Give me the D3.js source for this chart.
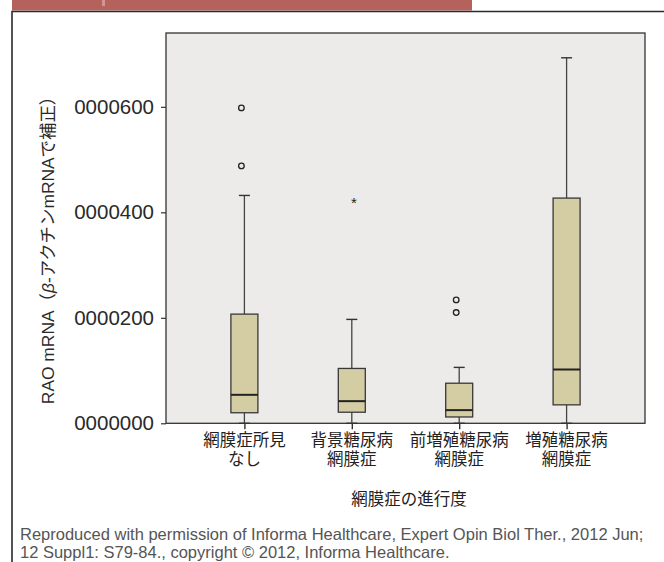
<!DOCTYPE html>
<html>
<head>
<meta charset="utf-8">
<script src="https://cdn.jsdelivr.net/npm/d3@7"></script>
<style>
  html, body { margin: 0; padding: 0; background: #fff; }
  svg { display: block; }
  text { font-family: "Liberation Sans", Arial, "Noto Sans CJK JP", sans-serif; }
</style>
</head>
<body>
<svg id="chart" width="664" height="562"></svg>
<script>
// Retinopathy stage groups (two-line labels)
const categories = [
  ["網膜症所見", "なし"],
  ["背景糖尿病", "網膜症"],
  ["前増殖糖尿病", "網膜症"],
  ["増殖糖尿病", "網膜症"]
];
// Box-plot summary per group
const whiskerLow  = [0, 0, 0, 0];
const q1          = [20, 21, 12, 35];
const median      = [54, 42, 25, 102];
const q3          = [207, 104, 76, 427];
const whiskerHigh = [432, 197, 106, 693];
// Outliers (circles) and extremes (asterisks)
const outliers = [[598, 488], [], [234, 210], []];
const extremes = [[], [420], [], []];
// Y axis ticks
const yTickValues = [0, 200, 400, 600];
const yTickLabels = ["0000000", "0000200", "0000400", "0000600"];

const yTitle = ["RAO mRNA（", "β", "-アクチンmRNAで補正）"];
const xTitle = "網膜症の進行度";
const caption = [
  "Reproduced with permission of Informa Healthcare, Expert Opin Biol Ther., 2012 Jun;",
  "12 Suppl1: S79-84., copyright © 2012, Informa Healthcare."
];

const svg = d3.select("#chart");

// page header strip and frame
svg.append("rect").attr("x", 12).attr("y", 0).attr("width", 460).attr("height", 10.5)
  .attr("fill", "#b5625d");
svg.append("rect").attr("x", 102).attr("y", 0).attr("width", 3).attr("height", 6)
  .attr("fill", "#d39591");
svg.append("path").attr("d", "M12,562V11.5H664")
  .attr("fill", "none").attr("stroke", "#2a2a2a").attr("stroke-width", 1.6);

const plot = { left: 166, top: 33, right: 645, bottom: 423.3 };

const x = d3.scalePoint()
  .domain(d3.range(categories.length))
  .range([plot.left, plot.right])
  .padding(0.73);

const y = d3.scaleLinear()
  .domain([0, 740])
  .range([plot.bottom, plot.top]);

// plot background
svg.append("rect")
  .attr("x", plot.left).attr("y", plot.top)
  .attr("width", plot.right - plot.left).attr("height", plot.bottom - plot.top)
  .attr("fill", "#ecebe9");

// y axis
const yAxis = svg.append("g")
  .attr("transform", `translate(${plot.left},0)`)
  .call(d3.axisLeft(y).tickValues(yTickValues)
    .tickFormat((d, i) => yTickLabels[i]).tickSize(5).tickPadding(7));
yAxis.select(".domain").remove();
yAxis.selectAll("line").attr("stroke", "#333").attr("stroke-width", 1.2);
yAxis.selectAll("text").attr("font-size", 20.5).attr("fill", "#2a2a2a")
  .attr("font-family", "'Liberation Sans', Arial, sans-serif");

// x axis ticks (labels drawn separately as two lines)
const xAxis = svg.append("g")
  .attr("transform", `translate(0,${plot.bottom})`)
  .call(d3.axisBottom(x).tickSize(6).tickFormat(""));
xAxis.select(".domain").remove();
xAxis.selectAll("line").attr("stroke", "#333").attr("stroke-width", 1.4);

const labels = svg.append("g");
categories.forEach((lines, i) => {
  const t = labels.append("text")
    .attr("x", x(i)).attr("y", 446)
    .attr("text-anchor", "middle")
    .attr("font-size", 16.5).attr("fill", "#222");
  lines.forEach((ln, j) => {
    t.append("tspan").attr("x", x(i)).attr("dy", j === 0 ? 0 : 18.5).text(ln);
  });
});

// plot border
svg.append("rect")
  .attr("x", plot.left).attr("y", plot.top)
  .attr("width", plot.right - plot.left).attr("height", plot.bottom - plot.top)
  .attr("fill", "none").attr("stroke", "#333").attr("stroke-width", 1.3);

// boxes
const boxW = 27, capW = 11;
const boxes = svg.append("g");
categories.forEach((c, i) => {
  const cx = x(i);
  const g = boxes.append("g");
  // whiskers
  g.append("line").attr("x1", cx).attr("x2", cx)
    .attr("y1", y(q3[i])).attr("y2", y(whiskerHigh[i]))
    .attr("stroke", "#444").attr("stroke-width", 1.3);
  g.append("line").attr("x1", cx).attr("x2", cx)
    .attr("y1", y(q1[i])).attr("y2", y(whiskerLow[i]))
    .attr("stroke", "#444").attr("stroke-width", 1.3);
  [whiskerHigh[i], whiskerLow[i]].forEach(v => {
    g.append("line").attr("x1", cx - capW / 2).attr("x2", cx + capW / 2)
      .attr("y1", y(v)).attr("y2", y(v))
      .attr("stroke", "#333").attr("stroke-width", 1.4);
  });
  // box
  g.append("rect")
    .attr("x", cx - boxW / 2).attr("y", y(q3[i]))
    .attr("width", boxW).attr("height", y(q1[i]) - y(q3[i]))
    .attr("fill", "#d4cca3").attr("stroke", "#383838").attr("stroke-width", 1.3);
  // median
  g.append("line").attr("x1", cx - boxW / 2).attr("x2", cx + boxW / 2)
    .attr("y1", y(median[i])).attr("y2", y(median[i]))
    .attr("stroke", "#222").attr("stroke-width", 2);
  // outliers
  outliers[i].forEach(v => {
    g.append("circle").attr("cx", cx - 3).attr("cy", y(v)).attr("r", 2.8)
      .attr("fill", "none").attr("stroke", "#222").attr("stroke-width", 1.3);
  });
  extremes[i].forEach(v => {
    g.append("text").attr("x", cx + 2).attr("y", y(v) + 6)
      .attr("text-anchor", "middle").attr("font-size", 15).attr("fill", "#222")
      .text("*");
  });
});

// axis titles
const yt = svg.append("text")
  .attr("transform", "translate(54,246) rotate(-90)")
  .attr("text-anchor", "middle")
  .attr("font-size", 17.4).attr("fill", "#2a2a2a");
yt.append("tspan").text(yTitle[0]);
yt.append("tspan").attr("font-style", "italic").text(yTitle[1]);
yt.append("tspan").text(yTitle[2]);

svg.append("text")
  .attr("x", 409).attr("y", 505)
  .attr("text-anchor", "middle")
  .attr("font-size", 16.5).attr("fill", "#222")
  .text(xTitle);

// source note
caption.forEach((ln, i) => {
  svg.append("text")
    .attr("x", 20).attr("y", 540 + i * 18)
    .attr("font-size", 16.5).attr("fill", "#555")
    .text(ln);
});
</script>
</body>
</html>
